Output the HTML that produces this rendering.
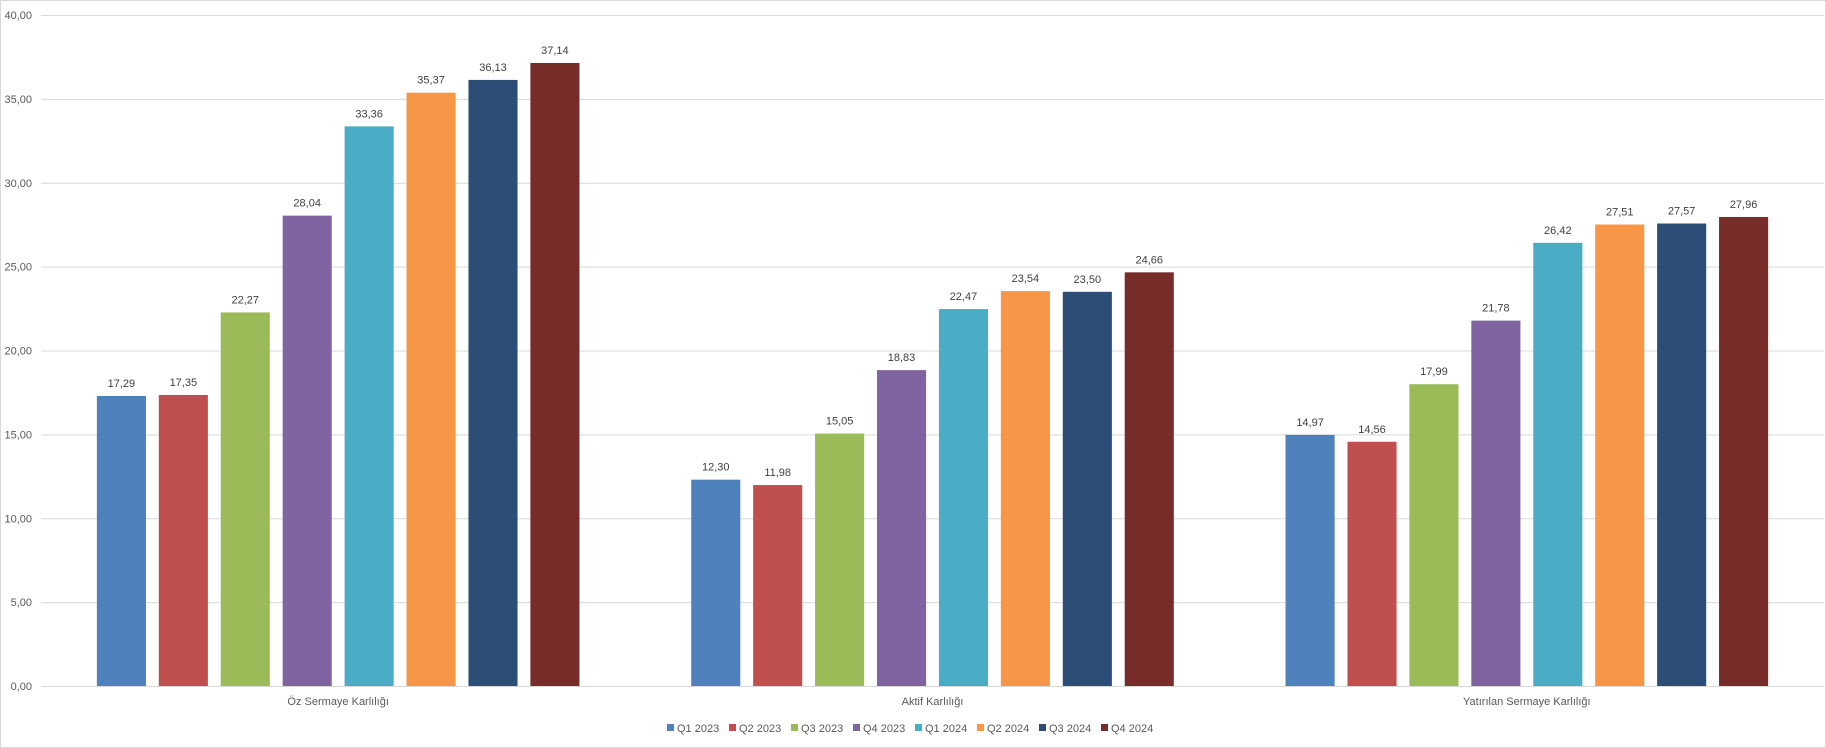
<!DOCTYPE html>
<html><head><meta charset="utf-8"><style>
body{margin:0;background:#fff}
svg{display:block;font-family:"Liberation Sans",sans-serif}
</style></head><body>
<svg id="c" width="1826" height="748">
<rect x="0.5" y="0.5" width="1825" height="747" fill="#fff" stroke="#d9d9d9"/>
<g id="grid"></g><g id="bars"></g><g id="labels"></g><g id="legend"></g>
</svg>
<script>
const categories=["Öz Sermaye Karlılığı","Aktif Karlılığı","Yatırılan Sermaye Karlılığı"];
const seriesNames=["Q1 2023","Q2 2023","Q3 2023","Q4 2023","Q1 2024","Q2 2024","Q3 2024","Q4 2024"];
const seriesColors=["#4f81bd","#c0504d","#9bbb59","#8064a2","#4bacc6","#f79646","#2c4d75","#772c2a"];
const q1_2023=[17.29,12.30,14.97];
const q2_2023=[17.35,11.98,14.56];
const q3_2023=[22.27,15.05,17.99];
const q4_2023=[28.04,18.83,21.78];
const q1_2024=[33.36,22.47,26.42];
const q2_2024=[35.37,23.54,27.51];
const q3_2024=[36.13,23.50,27.57];
const q4_2024=[37.14,24.66,27.96];
const seriesValues=[q1_2023,q2_2023,q3_2023,q4_2023,q1_2024,q2_2024,q3_2024,q4_2024];
const yTicks=[0,5,10,15,20,25,30,35,40];
const NS="http://www.w3.org/2000/svg";
const L=41,R=1824,T=15,B=686,yMax=40;
const y=v=>B-(v/yMax)*(B-T);
const catW=(R-L)/categories.length;
const step=catW*0.1042,bw=catW*0.0826;
const x=(c,s)=>L+catW*c+catW/2+(s-(seriesNames.length-1)/2)*step-bw/2;
const fmt=v=>v.toFixed(2).replace('.',',');
function el(t,a,p,txt){const e=document.createElementNS(NS,t);for(const k in a)e.setAttribute(k,a[k]);if(txt!==undefined)e.textContent=txt;p.appendChild(e);return e;}
const g=document.getElementById('grid');
yTicks.forEach(t=>{
 const ln=el('line',{x1:L,x2:R,y1:y(t)+.5,y2:y(t)+.5,stroke:'#d9d9d9','stroke-width':1},g);
 
 
 const tx=el('text',{x:32,y:y(t)+4,'text-anchor':'end','font-size':11,fill:'#595959'},g,fmt(t));
 
 
});
const bg=document.getElementById('bars'),lg=document.getElementById('labels');
seriesValues.forEach((arr,s)=>arr.forEach((v,c)=>{
 const r=el('rect',{x:x(c,s),y:y(v),width:bw,height:B-y(v),fill:seriesColors[s]},bg);
 
 
 const t=el('text',{x:x(c,s)+bw/2,y:y(v)-9,'text-anchor':'middle','font-size':11,fill:'#404040'},lg,fmt(v));
 
 
}));
categories.forEach((n,c)=>{
 const t=el('text',{x:L+catW*c+catW/2,y:705,'text-anchor':'middle','font-size':11,fill:'#595959'},lg,n);
 
 
});
const lgd=document.getElementById('legend');
const lx0=667,lw=62;
seriesNames.forEach((n,s)=>{
 const gi=el('g',{},lgd);
 
 
 el('rect',{x:lx0+s*lw,y:724,width:7,height:7,fill:seriesColors[s]},gi);
 el('text',{x:lx0+s*lw+10,y:732,'font-size':11,fill:'#595959'},gi,n);
});
</script>
</body></html>
